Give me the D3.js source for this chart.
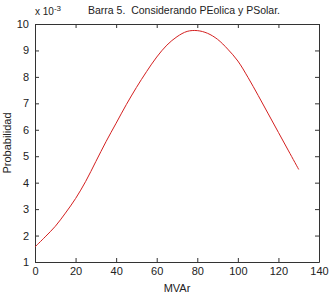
<!DOCTYPE html>
<html>
<head>
<meta charset="utf-8">
<script src="https://d3js.org/d3.v7.min.js"></script>
<style>
  body { margin: 0; background: #fff; }
  text { font-family: "Liberation Sans", Arial, sans-serif; fill: #222; }
</style>
</head>
<body>
<script>
// MVAr values and probability (x 10^-3)
var mvar = [0, 5, 10, 15, 20, 25, 30, 35, 40, 45, 50, 55, 60, 65,
  70, 75, 80, 85, 90, 95, 100, 105, 110, 115, 120, 125, 130];
var prob = [1.57, 1.95, 2.35, 2.85, 3.4, 4.05, 4.8, 5.55, 6.25, 6.95, 7.6, 8.2, 8.75, 9.2,
  9.52, 9.72, 9.75, 9.65, 9.42, 9.05, 8.6, 7.98, 7.3, 6.6, 5.9, 5.2, 4.5];
var xTicks = [0, 20, 40, 60, 80, 100, 120, 140];
var yTicks = [1, 2, 3, 4, 5, 6, 7, 8, 9, 10];

var margin = { top: 24, right: 17, bottom: 34, left: 35 },
  width = 336 - margin.left - margin.right,
  height = 296 - margin.top - margin.bottom;

var x = d3.scaleLinear().domain([0, 140]).range([0, width]);
var y = d3.scaleLinear().domain([1, 10]).range([height, 0]);

var svg = d3.select("body").append("svg")
  .attr("width", 336)
  .attr("height", 296)
  .append("g")
  .attr("transform", "translate(" + margin.left + "," + margin.top + ")");

// axes, ticks pointing inwards like matlab
function styleAxis(g) {
  g.select(".domain").attr("stroke", "#333");
  g.selectAll(".tick line").attr("stroke", "#333");
  g.selectAll(".tick text").style("font-size", "11px").attr("fill", "#222");
}

svg.append("g")
  .attr("transform", "translate(0," + height + ")")
  .call(d3.axisBottom(x).tickValues(xTicks).tickSizeInner(-4).tickSizeOuter(0).tickPadding(5))
  .call(styleAxis);
svg.append("g")
  .call(d3.axisTop(x).tickValues(xTicks).tickSizeInner(-4).tickSizeOuter(0).tickFormat(""))
  .call(styleAxis);
svg.append("g")
  .call(d3.axisLeft(y).tickValues(yTicks).tickSizeInner(-4).tickSizeOuter(0).tickPadding(6))
  .call(styleAxis);
svg.append("g")
  .attr("transform", "translate(" + width + ",0)")
  .call(d3.axisRight(y).tickValues(yTicks).tickSizeInner(-4).tickSizeOuter(0).tickFormat(""))
  .call(styleAxis);

svg.selectAll(".domain").attr("fill", "none");

// the curve
var line = d3.line()
  .x(function (d, i) { return x(mvar[i]); })
  .y(function (d) { return y(d); })
  .curve(d3.curveCatmullRom);

svg.append("path")
  .datum(prob)
  .attr("fill", "none")
  .attr("stroke", "#d42020")
  .attr("stroke-width", 1)
  .attr("d", line);

// labels
var t = svg.append("text")
  .attr("x", 0)
  .attr("y", -9)
  .style("font-size", "10px");
t.append("tspan").text("x 10");
t.append("tspan").attr("dy", -4).style("font-size", "8px").text("-3");

svg.append("text")
  .attr("x", 149)
  .attr("y", -10)
  .attr("text-anchor", "middle")
  .style("font-size", "10.5px")
  .attr("xml:space", "preserve")
  .text("Barra 5.  Considerando PEolica y PSolar.");

svg.append("text")
  .attr("x", width / 2)
  .attr("y", height + 30)
  .attr("text-anchor", "middle")
  .style("font-size", "11px")
  .text("MVAr");

svg.append("text")
  .attr("transform", "translate(-24," + (height / 2) + ") rotate(-90)")
  .attr("text-anchor", "middle")
  .style("font-size", "11px")
  .text("Probabilidad");
</script>
</body>
</html>
